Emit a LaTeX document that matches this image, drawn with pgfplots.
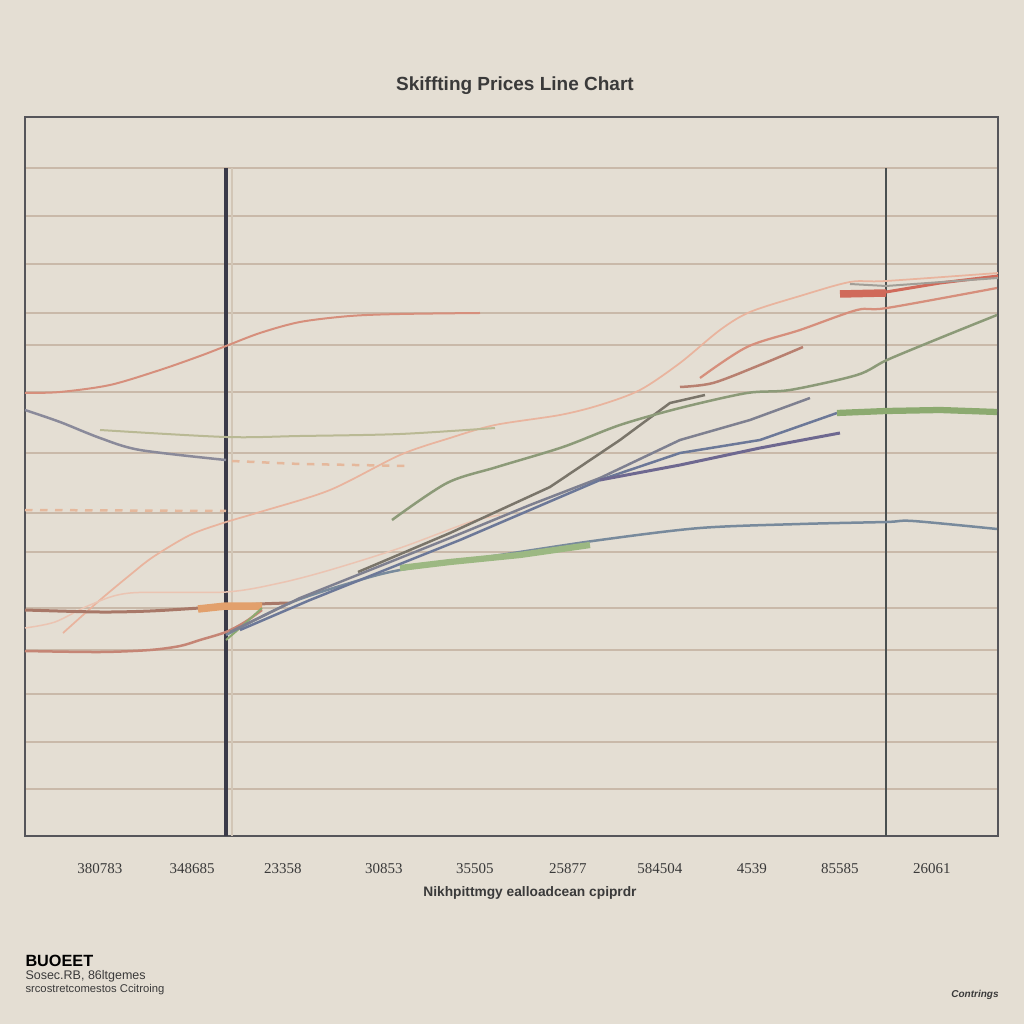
\documentclass[border=0pt]{standalone}
\usepackage{fontspec}
\setmainfont{Liberation Sans}
\newfontfamily\serifft{Liberation Serif}
\usepackage{pgfplots}
\pgfplotsset{compat=1.18}
\definecolor{bg}{HTML}{E4DED3}
\definecolor{framec}{HTML}{55555A}
\definecolor{gridc}{HTML}{C9B9A9}
\definecolor{labc}{HTML}{3A3A3A}
\definecolor{salm}{HTML}{D68F7C}
\definecolor{peach}{HTML}{E9B49E}
\definecolor{pink}{HTML}{EBC4B2}
\definecolor{dpeach}{HTML}{E5B89C}
\definecolor{olive}{HTML}{B9B994}
\definecolor{slate}{HTML}{8A8A9A}
\definecolor{brn}{HTML}{A87868}
\definecolor{orng}{HTML}{E2A06C}
\definecolor{redb}{HTML}{C58575}
\definecolor{grn}{HTML}{8CAA70}
\definecolor{dgray}{HTML}{7A756A}
\definecolor{ggray}{HTML}{8C9A78}
\definecolor{bgray}{HTML}{7E8090}
\definecolor{blu}{HTML}{6C7898}
\definecolor{purp}{HTML}{6E6890}
\definecolor{botl}{HTML}{788A9C}
\definecolor{lgrn}{HTML}{9CB882}
\definecolor{tbrn}{HTML}{B88070}
\definecolor{rthick}{HTML}{D06A5A}
\definecolor{vdark}{HTML}{3A3A48}
\definecolor{vlight}{HTML}{D2C6B6}
\definecolor{vright}{HTML}{4A5050}
\begin{document}
\begin{tikzpicture}[x=1pt,y=1pt]
\fill[bg] (-10,-75.2) rectangle (399.6,334.4);
\begin{axis}[
  at={(0,0)}, anchor=south west,
  scale only axis, width=389.2pt, height=287.6pt,
  xmin=25, xmax=998, ymin=117, ymax=836, y dir=reverse,
  clip=false,
  axis background/.style={fill=bg},
  axis line style={draw=framec, line width=0.6pt},
  ytick={168,216,264,313,345,392,453,513,552,608,650,694,742,789},
  yticklabels={},
  ymajorgrids, grid style={draw=gridc, line width=0.5pt},
  major tick length=0pt,
  xtick={100,192,283,384,475,568,660,752,840,932},
  xticklabels={380783,348685,23358,30853,35505,25877,584504,4539,85585,26061},
  xticklabel style={font=\serifft\fontsize{6}{7}\selectfont, text=labc, yshift=-7.6pt},
]
% vertical marker lines
\addplot[vlight, line width=0.6pt] coordinates {(232,168) (232,836)};
\addplot[vdark, line width=1.6pt] coordinates {(226,168) (226,836)};
\addplot[vright, line width=0.8pt] coordinates {(886,168) (886,836)};
% series
\addplot[salm, line width=0.8pt, smooth] coordinates {(25,393) (60,392) (110,385) (160,370) (200,356) (226,346) (260,333) (300,322) (350,316) (400,314) (480,313)};
\addplot[peach, line width=0.7pt, smooth] coordinates {(63,633) (100,600) (130,575) (153,557) (190,535) (223,523) (260,512) (330,490) (400,455) (450,438) (495,425) (560,415) (600,405) (640,390) (680,363) (720,330) (750,312) (800,296) (850,282) (886,281) (998,273)};
\addplot[pink, line width=0.6pt, smooth] coordinates {(25,628) (55,622) (90,605) (130,593) (226,592) (280,583) (330,570) (400,548) (470,522) (500,515)};
\addplot[dpeach, line width=1pt, dashed] coordinates {(25,510) (226,511)};
\addplot[dpeach, line width=1pt, dashed] coordinates {(232,461) (300,464) (410,466)};
\addplot[olive, line width=0.8pt, smooth] coordinates {(100,430) (226,437) (300,436) (400,434) (495,428)};
\addplot[slate, line width=1pt, smooth] coordinates {(25,410) (60,422) (100,438) (140,450) (226,460)};
\addplot[brn, line width=1.2pt, smooth] coordinates {(25,610) (100,612) (150,611) (200,608) (260,604) (290,603)};
\addplot[orng, line width=3pt] coordinates {(198,609) (226,606) (262,606)};
\addplot[redb, line width=1pt, smooth] coordinates {(25,651) (100,652) (150,650) (180,646) (200,640) (226,632) (245,622) (262,610)};
\addplot[grn, line width=0.8pt] coordinates {(226,640) (240,628) (262,608)};
\addplot[botl, line width=1pt, smooth] coordinates {(226,635) (290,603) (350,583) (400,570) (500,555) (600,540) (700,528) (800,524) (886,522) (913,521) (997,529)};
\addplot[lgrn, line width=2.5pt] coordinates {(400,568) (450,562) (520,555) (590,545)};
\addplot[dgray, line width=1pt] coordinates {(358,572) (450,533) (550,487) (620,440) (670,403) (705,395)};
\addplot[ggray, line width=1pt, smooth] coordinates {(392,520) (447,483) (497,467) (563,447) (620,425) (680,408) (747,393) (790,390) (857,375) (887,360) (940,338) (997,315)};
\addplot[bgray, line width=1pt] coordinates {(230,632) (300,598) (360,574) (450,538) (530,505) (600,478) (680,440) (750,420) (810,398)};
\addplot[blu, line width=1pt] coordinates {(240,630) (310,600) (360,580) (460,540) (600,480) (680,453) (760,440) (837,413)};
\addplot[purp, line width=1.2pt] coordinates {(600,480) (680,465) (760,448) (840,433)};
\addplot[grn, line width=2.5pt] coordinates {(837,413) (886,411) (940,410) (997,412)};
\addplot[tbrn, line width=1pt, smooth] coordinates {(680,387) (713,383) (760,365) (803,347)};
\addplot[salm, line width=0.9pt, smooth] coordinates {(700,378) (747,347) (800,330) (857,310) (887,308) (997,288)};
\addplot[rthick, line width=3pt] coordinates {(840,294) (886,293)};
\addplot[rthick, line width=1.2pt] coordinates {(886,292) (940,283) (998,276)};
\addplot[dgray!70, line width=0.8pt] coordinates {(850,284) (886,286) (998,278)};
% texts
\node[font=\bfseries\fontsize{7.6}{9}\selectfont, text=labc] at (axis cs:515,86) {Skiffting Prices Line Chart};
\node[font=\bfseries\fontsize{5.5}{6.5}\selectfont, text=labc] at (axis cs:530,893) {Nikhpittmgy ealloadcean cpiprdr};
\node[font=\bfseries\fontsize{6.5}{7.5}\selectfont, text=black, anchor=west, inner sep=0pt] at (axis cs:25,961) {BUOEET};
\node[font=\fontsize{5}{6}\selectfont, text=labc, anchor=west, inner sep=0pt] at (axis cs:25,976) {Sosec.RB, 86ltgemes};
\node[font=\fontsize{4.5}{5.5}\selectfont, text=labc, anchor=west, inner sep=0pt] at (axis cs:25,990) {srcostretcomestos Ccitroing};
\node[font=\bfseries\itshape\fontsize{4}{5}\selectfont, text=labc] at (axis cs:975,995) {Contrings};
\end{axis}
\pgfresetboundingbox
\useasboundingbox (-10,-75.2) rectangle (399.6,334.4);
\end{tikzpicture}
\end{document}
